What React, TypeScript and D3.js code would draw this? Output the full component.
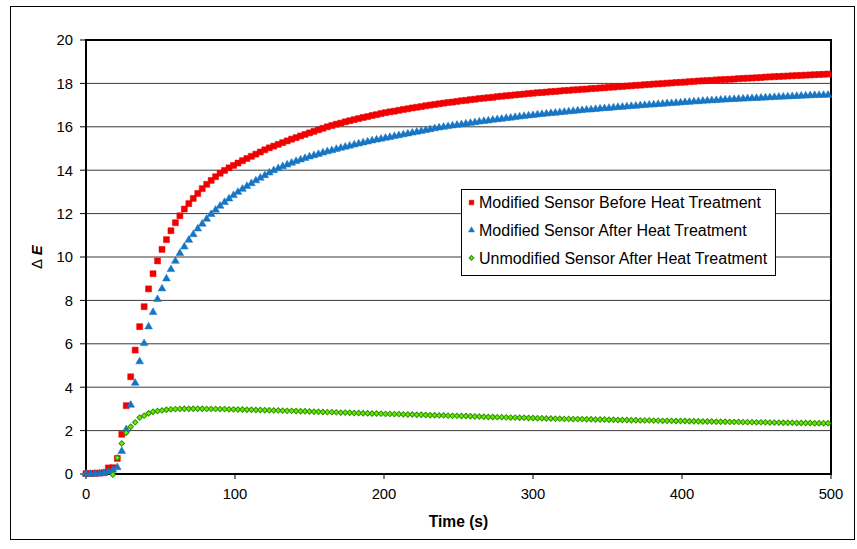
import * as React from "react"
import * as d3 from "d3"

const WIDTH = 857
const HEIGHT = 549

// sampling times (s), one reading every 3 s
const TIMES = d3.range(0, 499, 3)

const BEFORE_HEAT = [
  0.02, 0.02, 0.03, 0.04, 0.06, 0.28, 0.29, 0.72, 1.83, 3.15,
  4.48, 5.71, 6.79, 7.71, 8.53, 9.23, 9.82, 10.35, 10.8, 11.21,
  11.58, 11.9, 12.21, 12.46, 12.7, 12.93, 13.15, 13.35, 13.53, 13.7,
  13.86, 13.99, 14.11, 14.22, 14.33, 14.44, 14.54, 14.64, 14.74, 14.84,
  14.94, 15.03, 15.11, 15.19, 15.27, 15.35, 15.43, 15.5, 15.58, 15.65,
  15.72, 15.79, 15.86, 15.93, 16.0, 16.06, 16.12, 16.17, 16.23, 16.28,
  16.33, 16.38, 16.43, 16.47, 16.52, 16.56, 16.61, 16.65, 16.69, 16.72,
  16.76, 16.8, 16.83, 16.87, 16.9, 16.93, 16.97, 17.0, 17.03, 17.06,
  17.09, 17.12, 17.14, 17.17, 17.2, 17.22, 17.25, 17.27, 17.3, 17.32,
  17.34, 17.36, 17.39, 17.41, 17.43, 17.45, 17.47, 17.49, 17.51, 17.53,
  17.55, 17.57, 17.58, 17.6, 17.62, 17.63, 17.65, 17.67, 17.68, 17.7,
  17.71, 17.73, 17.74, 17.76, 17.77, 17.79, 17.8, 17.82, 17.83, 17.85,
  17.86, 17.88, 17.89, 17.91, 17.92, 17.94, 17.95, 17.97, 17.98, 17.99,
  18.01, 18.02, 18.04, 18.05, 18.06, 18.08, 18.09, 18.11, 18.12, 18.13,
  18.14, 18.16, 18.17, 18.18, 18.19, 18.2, 18.22, 18.23, 18.24, 18.25,
  18.26, 18.27, 18.29, 18.3, 18.31, 18.32, 18.33, 18.34, 18.35, 18.36,
  18.37, 18.38, 18.39, 18.4, 18.41, 18.42, 18.43,
]

const AFTER_HEAT = [
  0, 0, 0.01, 0.02, 0.04, 0.1, 0.18, 0.3, 1.05, 2.05,
  3.18, 4.19, 5.18, 6.02, 6.79, 7.45, 8.05, 8.54, 9.0, 9.43,
  9.81, 10.17, 10.47, 10.78, 11.04, 11.3, 11.52, 11.75, 11.97, 12.17,
  12.35, 12.52, 12.68, 12.84, 12.99, 13.13, 13.26, 13.39, 13.52, 13.64,
  13.76, 13.88, 13.99, 14.08, 14.17, 14.25, 14.33, 14.41, 14.48, 14.55,
  14.62, 14.68, 14.74, 14.8, 14.86, 14.91, 14.97, 15.02, 15.07, 15.12,
  15.17, 15.22, 15.27, 15.31, 15.36, 15.4, 15.44, 15.48, 15.52, 15.56,
  15.6, 15.64, 15.68, 15.72, 15.76, 15.8, 15.84, 15.88, 15.92, 15.96,
  15.99, 16.02, 16.05, 16.08, 16.11, 16.14, 16.17, 16.2, 16.23, 16.26,
  16.28, 16.31, 16.34, 16.36, 16.39, 16.41, 16.44, 16.46, 16.49, 16.51,
  16.53, 16.56, 16.58, 16.6, 16.62, 16.64, 16.66, 16.68, 16.7, 16.72,
  16.74, 16.76, 16.78, 16.79, 16.81, 16.83, 16.85, 16.86, 16.88, 16.9,
  16.91, 16.93, 16.95, 16.96, 16.98, 16.99, 17.01, 17.02, 17.04, 17.05,
  17.07, 17.08, 17.1, 17.11, 17.13, 17.14, 17.16, 17.17, 17.19, 17.2,
  17.21, 17.22, 17.24, 17.25, 17.26, 17.27, 17.28, 17.29, 17.3, 17.31,
  17.32, 17.33, 17.34, 17.35, 17.36, 17.37, 17.38, 17.39, 17.4, 17.41,
  17.42, 17.43, 17.44, 17.45, 17.45, 17.46, 17.47,
]

const UNMODIFIED = [
  null, null, null, null, null, null, -0.03, 0.75, 1.41, 1.9,
  2.18, 2.38, 2.6, 2.69, 2.8, 2.87, 2.9, 2.93, 2.96, 2.98,
  2.99, 3.0, 3.01, 3.01, 3.01, 3.01, 3.01, 3.0, 3.0, 3.0,
  2.99, 2.99, 2.98, 2.98, 2.97, 2.97, 2.96, 2.96, 2.95, 2.95,
  2.94, 2.94, 2.93, 2.93, 2.92, 2.91, 2.91, 2.9, 2.89, 2.89,
  2.88, 2.87, 2.87, 2.86, 2.85, 2.85, 2.84, 2.83, 2.83, 2.82,
  2.81, 2.81, 2.8, 2.8, 2.79, 2.79, 2.78, 2.77, 2.77, 2.76,
  2.76, 2.75, 2.74, 2.74, 2.73, 2.73, 2.72, 2.71, 2.71, 2.7,
  2.7, 2.69, 2.68, 2.68, 2.67, 2.67, 2.66, 2.65, 2.65, 2.64,
  2.63, 2.63, 2.62, 2.62, 2.61, 2.6, 2.6, 2.59, 2.59, 2.58,
  2.58, 2.57, 2.57, 2.56, 2.56, 2.55, 2.55, 2.54, 2.54, 2.53,
  2.53, 2.53, 2.52, 2.52, 2.51, 2.51, 2.51, 2.5, 2.5, 2.49,
  2.49, 2.49, 2.48, 2.48, 2.47, 2.47, 2.47, 2.46, 2.46, 2.45,
  2.45, 2.45, 2.44, 2.44, 2.44, 2.43, 2.43, 2.43, 2.42, 2.42,
  2.42, 2.41, 2.41, 2.41, 2.4, 2.4, 2.4, 2.39, 2.39, 2.39,
  2.38, 2.38, 2.38, 2.37, 2.37, 2.37, 2.36, 2.36, 2.36, 2.35,
  2.35, 2.35, 2.35, 2.34, 2.34, 2.34, 2.34,
]

const X_TICKS = [0, 100, 200, 300, 400, 500]
const Y_TICKS = [0, 2, 4, 6, 8, 10, 12, 14, 16, 18, 20]

const LEGEND_LABELS = [
  "Modified Sensor Before Heat Treatment",
  "Modified Sensor After Heat Treatment",
  "Unmodified Sensor After Heat Treatment",
]

const FONT = "Arial, 'Liberation Sans', Helvetica, sans-serif"

const PLOT = { left: 86, right: 831, top: 40, bottom: 474 }

const x = d3.scaleLinear().domain([0, 500]).range([PLOT.left, PLOT.right])
const y = d3.scaleLinear().domain([0, 20]).range([PLOT.bottom, PLOT.top])

const squarePath = d3.symbol().type(d3.symbolSquare).size(36)()
const trianglePath = d3.symbol().type(d3.symbolTriangle).size(26)()
const diamondPath = d3.symbol().type(d3.symbolSquare).size(15)()
const squareSmall = d3.symbol().type(d3.symbolSquare).size(22)()
const triangleSmall = d3.symbol().type(d3.symbolTriangle).size(16)()
const diamondSmall = d3.symbol().type(d3.symbolSquare).size(11)()

const SERIES = [
  { values: BEFORE_HEAT, path: squarePath, legend: squareSmall, fill: "#f00000", stroke: "#f00000", rot: 0 },
  { values: AFTER_HEAT, path: trianglePath, legend: triangleSmall, fill: "#1776c4", stroke: "#1776c4", rot: 0 },
  { values: UNMODIFIED, path: diamondPath, legend: diamondSmall, fill: "#66f000", stroke: "#2f8f00", rot: 45 },
]

export default function App() {
  const gridValues = Y_TICKS.filter(v => v > 0 && v < 20)
  const legend = { x: 461.5, y: 189.5, w: 314, h: 86 }

  return (
    <div style={{ position: "absolute", left: 0, top: 0 }}>
      <svg width={WIDTH} height={HEIGHT} style={{ display: "block", fontFamily: FONT }}>
        <rect x={0} y={0} width={WIDTH} height={HEIGHT} fill="#fff" />
        <rect x={10.5} y={6.5} width={844} height={533} fill="#fff" stroke="#000" strokeWidth={1} />

        {gridValues.map(v => (
          <line key={v} x1={PLOT.left} x2={PLOT.right} y1={y(v)} y2={y(v)} stroke="#3a3a3a" strokeWidth={1} />
        ))}

        <rect
          x={PLOT.left}
          y={PLOT.top}
          width={PLOT.right - PLOT.left}
          height={PLOT.bottom - PLOT.top}
          fill="none"
          stroke="#000"
          strokeWidth={2}
        />

        {Y_TICKS.map(v => (
          <g key={v}>
            <line x1={PLOT.left - 6} x2={PLOT.left} y1={y(v)} y2={y(v)} stroke="#000" />
            <text x={73} y={y(v)} dy="0.36em" textAnchor="end" fontSize={14.8}>
              {v}
            </text>
          </g>
        ))}

        {X_TICKS.map(v => (
          <g key={v}>
            <line x1={x(v)} x2={x(v)} y1={PLOT.bottom} y2={PLOT.bottom + 5} stroke="#000" />
            <text x={x(v)} y={499} textAnchor="middle" fontSize={14.8}>
              {v}
            </text>
          </g>
        ))}

        <text x={(PLOT.left + PLOT.right) / 2} y={527} textAnchor="middle" fontSize={15.6} fontWeight="bold">
          Time (s)
        </text>
        <text transform={`translate(42, ${(PLOT.top + PLOT.bottom) / 2}) rotate(-90)`} textAnchor="middle" fontSize={14.8}>
          {"\u2206 "}
          <tspan fontWeight="bold" fontStyle="italic">E</tspan>
        </text>

        {SERIES.map((s, si) => (
          <g key={si} fill={s.fill} stroke={s.stroke} strokeWidth={si === 2 ? 1 : 0.5}>
            {TIMES.map((t, i) => {
              const v = s.values[i]
              if (v == null) return null
              return (
                <path key={i} d={s.path} transform={`translate(${x(t)},${y(v)}) rotate(${s.rot})`} />
              )
            })}
          </g>
        ))}

        <rect x={legend.x} y={legend.y} width={legend.w} height={legend.h} fill="#fff" stroke="#000" strokeWidth={1} />
        {LEGEND_LABELS.map((label, i) => {
          const cy = 202.5 + i * 27.7
          const s = SERIES[i]
          return (
            <g key={label}>
              <path
                d={s.legend}
                transform={`translate(471.5,${cy}) rotate(${s.rot})`}
                fill={s.fill}
                stroke={s.stroke}
                strokeWidth={i === 2 ? 1 : 0.5}
              />
              <text x={479} y={cy} dy="0.36em" fontSize={16}>
                {label}
              </text>
            </g>
          )
        })}
      </svg>
    </div>
  )
}
